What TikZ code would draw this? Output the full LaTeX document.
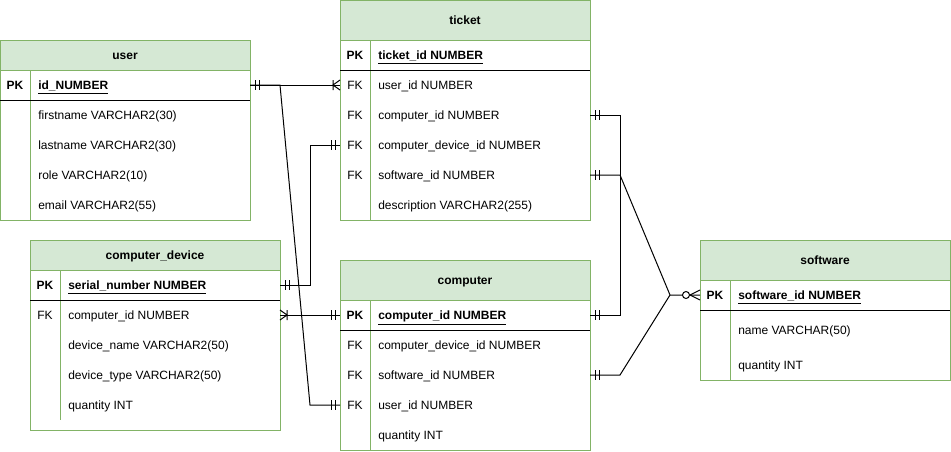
\documentclass[tikz,border=0pt]{standalone}
\usepackage{fontspec}
\setmainfont{Liberation Sans}
\usetikzlibrary{calc}
\definecolor{tgreen}{HTML}{82B366}
\definecolor{thdr}{HTML}{D5E8D4}
\begin{document}
\begin{tikzpicture}[x=0.75pt,y=-0.75pt,
  every node/.style={inner sep=0pt,font=\fontsize{9}{11}\selectfont,text height=0.72em,text depth=0em},
  tborder/.style={draw=tgreen,line width=0.75pt},
  hdrtext/.style={font=\fontsize{9}{11}\selectfont\bfseries},
  keytext/.style={font=\fontsize{9}{11}\selectfont\bfseries},
  fieldtext/.style={anchor=west},
  pktext/.style={anchor=west,font=\fontsize{9}{11}\selectfont\bfseries},
  conn/.style={draw=black,line width=0.75pt},
  mone/.pic={\draw[line width=0.75pt] (5,-5)--(5,5) (9,-5)--(9,5);},
  onemany/.pic={\draw[line width=0.75pt] (0,-5)--(7,0)--(0,5) (7,-5)--(7,5);},
  zeromany/.pic={\draw[line width=0.75pt] (0,-5)--(10,0)--(0,5);
     \draw[line width=0.75pt,fill=white] (14,0) circle (3.5);},
]
\useasboundingbox (0,0) rectangle (951,451);

% user: x 0..250, header 40..70, pk 70..100, bottom 220
\fill[thdr] (0,40) rectangle (250,70);
\draw[tborder] (0,40) rectangle (250,220) (0,70)--(250,70) (30,70)--(30,220);
\draw[line width=0.75pt] (0,100)--(250,100);
\node[hdrtext] (user-title) at (125,55) {user};
\node[keytext] (user-pk) at (15,85) {PK};
\node[pktext] (user-id) at (38,85) {\underline{id\_NUMBER}};
\node[fieldtext] (user-fn) at (38,115) {firstname VARCHAR2(30)};
\node[fieldtext] (user-ln) at (38,145) {lastname VARCHAR2(30)};
\node[fieldtext] (user-role) at (38,175) {role VARCHAR2(10)};
\node[fieldtext] (user-email) at (38,205) {email VARCHAR2(55)};

% ticket: x 340..590, header 0..40, pk 40..70, bottom 220
\fill[thdr] (340,0.5) rectangle (590,40);
\draw[tborder] (340,0.5) rectangle (590,220) (340,40)--(590,40) (370,40)--(370,220);
\draw[line width=0.75pt] (340,70)--(590,70);
\node[hdrtext] (ticket-title) at (465,20) {ticket};
\node[keytext] (ticket-pk) at (355,55) {PK};
\node[pktext] (ticket-id) at (378,55) {\underline{ticket\_id NUMBER}};
\node (ticket-fk1) at (355,85) {FK};
\node[fieldtext] (ticket-user) at (378,85) {user\_id NUMBER};
\node (ticket-fk2) at (355,115) {FK};
\node[fieldtext] (ticket-comp) at (378,115) {computer\_id NUMBER};
\node (ticket-fk3) at (355,145) {FK};
\node[fieldtext] (ticket-cdev) at (378,145) {computer\_device\_id NUMBER};
\node (ticket-fk4) at (355,175) {FK};
\node[fieldtext] (ticket-soft) at (378,175) {software\_id NUMBER};
\node[fieldtext] (ticket-desc) at (378,205) {description VARCHAR2(255)};

% computer_device: x 30..280, header 240..270, pk 270..300, bottom 430
\fill[thdr] (30,240) rectangle (280,270);
\draw[tborder] (30,240) rectangle (280,430) (30,270)--(280,270) (60,270)--(60,420);
\draw[line width=0.75pt] (30,300)--(280,300);
\node[hdrtext] (cd-title) at (155,255) {computer\_device};
\node[keytext] (cd-pk) at (45,285) {PK};
\node[pktext] (cd-serial) at (68,285) {\underline{serial\_number NUMBER}};
\node (cd-fk1) at (45,315) {FK};
\node[fieldtext] (cd-comp) at (68,315) {computer\_id NUMBER};
\node[fieldtext] (cd-name) at (68,345) {device\_name VARCHAR2(50)};
\node[fieldtext] (cd-type) at (68,375) {device\_type VARCHAR2(50)};
\node[fieldtext] (cd-qty) at (68,405) {quantity INT};

% computer: x 340..590, header 260..300, pk 300..330, bottom 450
\fill[thdr] (340,260) rectangle (590,300);
\draw[tborder] (340,260) rectangle (590,450) (340,300)--(590,300) (370,300)--(370,450);
\draw[line width=0.75pt] (340,330)--(590,330);
\node[hdrtext] (comp-title) at (465,280) {computer};
\node[keytext] (comp-pk) at (355,315) {PK};
\node[pktext] (comp-id) at (378,315) {\underline{computer\_id NUMBER}};
\node (comp-fk1) at (355,345) {FK};
\node[fieldtext] (comp-cdev) at (378,345) {computer\_device\_id NUMBER};
\node (comp-fk2) at (355,375) {FK};
\node[fieldtext] (comp-soft) at (378,375) {software\_id NUMBER};
\node (comp-fk3) at (355,405) {FK};
\node[fieldtext] (comp-user) at (378,405) {user\_id NUMBER};
\node[fieldtext] (comp-qty) at (378,435) {quantity INT};

% software: x 700..950, header 240..280, pk 280..310, bottom 380
\fill[thdr] (700,240) rectangle (950,280);
\draw[tborder] (700,240) rectangle (950,380) (700,280)--(950,280) (730,280)--(730,380);
\draw[line width=0.75pt] (700,310)--(950,310);
\node[hdrtext] (sw-title) at (825,260) {software};
\node[keytext] (sw-pk) at (715,295) {PK};
\node[pktext] (sw-id) at (738,295) {\underline{software\_id NUMBER}};
\node[fieldtext] (sw-name) at (738,330) {name VARCHAR(50)};
\node[fieldtext] (sw-qty) at (738,365) {quantity INT};

% connector anchors
\coordinate (a-user-id) at (250,85);
\coordinate (a-ticket-user) at (340,85);
\coordinate (a-ticket-cdev) at (340,145);
\coordinate (a-ticket-comp) at (590,115);
\coordinate (a-ticket-soft) at (590,175);
\coordinate (a-cd-serial) at (280,285);
\coordinate (a-cd-comp) at (280,315);
\coordinate (a-comp-pkw) at (340,315);
\coordinate (a-comp-pke) at (590,315);
\coordinate (a-comp-user) at (340,405);
\coordinate (a-comp-soft) at (590,375);
\coordinate (a-sw-pk) at (700,295);
\coordinate (j-sw) at (670,295);

% connectors
\draw[conn] (a-user-id) -- (a-ticket-user);
\draw[conn] (a-user-id) -- ++(30,0) -- (310,405) -- (a-comp-user);
\draw[conn] (a-cd-serial) -- ++(30,0) |- (a-ticket-cdev);
\draw[conn] (a-cd-comp) -- (a-comp-pkw);
\draw[conn] (a-ticket-comp) -- ++(30,0) |- (a-comp-pke);
\draw[conn] (a-ticket-soft) -- ++(30,0) -- (j-sw) -- (a-sw-pk);
\draw[conn] (a-comp-soft) -- ++(30,0) -- (j-sw);

% markers
\pic at (a-user-id) {mone};
\pic[xscale=-1] at (a-ticket-user) {onemany};
\pic[xscale=-1] at (a-comp-user) {mone};
\pic at (a-cd-serial) {mone};
\pic[xscale=-1] at (a-ticket-cdev) {mone};
\pic at (a-cd-comp) {onemany};
\pic[xscale=-1] at (a-comp-pkw) {mone};
\pic at (a-ticket-comp) {mone};
\pic at (a-comp-pke) {mone};
\pic at (a-ticket-soft) {mone};
\pic at (a-comp-soft) {mone};
\pic[xscale=-1] at (a-sw-pk) {zeromany};
\end{tikzpicture}
\end{document}
